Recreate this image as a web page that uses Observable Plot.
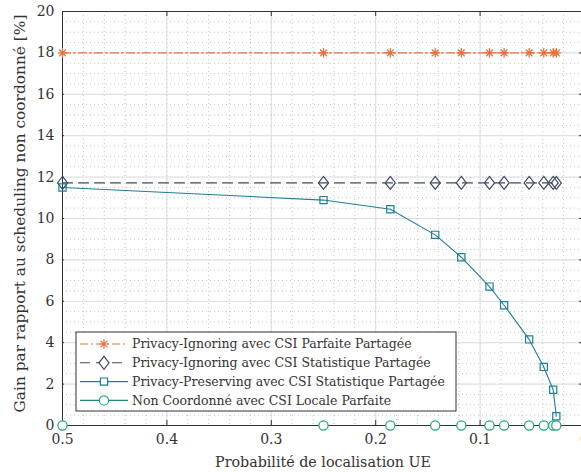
<!DOCTYPE html>
<html>
<head>
<meta charset="utf-8">
<script src="https://cdn.jsdelivr.net/npm/d3@7"></script>
<script src="https://cdn.jsdelivr.net/npm/@observablehq/plot@0.6"></script>
<style>
  html, body { margin: 0; padding: 0; background: #fff; }
  #chart { position: relative; width: 581px; height: 472px; overflow: hidden; }
</style>
</head>
<body>
<div id="chart"></div>
<script>
// ---- Data ----
const probLoc = [0.5, 0.25, 0.186, 0.143, 0.118, 0.091, 0.077, 0.053, 0.039, 0.030, 0.027];
const gainIgnoringParfaite = [18, 18, 18, 18, 18, 18, 18, 18, 18, 18, 18];
const gainIgnoringStat = [11.72, 11.72, 11.72, 11.72, 11.72, 11.72, 11.72, 11.72, 11.72, 11.72, 11.72];
const gainPreservingStat = [11.5, 10.89, 10.45, 9.21, 8.13, 6.71, 5.81, 4.16, 2.83, 1.73, 0.45];
const gainNonCoord = [0, 0, 0, 0, 0, 0, 0, 0, 0, 0, 0];

const seriesNames = [
  "Privacy-Ignoring avec CSI Parfaite Partagée",
  "Privacy-Ignoring avec CSI Statistique Partagée",
  "Privacy-Preserving avec CSI Statistique Partagée",
  "Non Coordonné avec CSI Locale Parfaite"
];
const xLabel = "Probabilité de localisation UE";
const yLabel = "Gain par rapport au scheduling non coordonné [%]";
const xTicks = [0.5, 0.4, 0.3, 0.2, 0.1, 0];
const yTicks = [0, 2, 4, 6, 8, 10, 12, 14, 16, 18, 20];
const xMinor = d3.range(0, 0.5001, 0.02);
const yMinor = d3.range(0, 20.001, 0.5);

// ---- Styles ----
const FONT = "'DejaVu Serif', 'Liberation Serif', serif";
const colors = ["#E8703A", "#3E4A60", "#1E7F96", "#1BA47A"];
const lineColors = ["#E8703A", "#3E4A60", "#1E7F96", "#228B78"];
const dashes = ["8,3,2,3", "10,6", null, null];

const star8 = {draw(ctx, size) {
  const r = Math.sqrt(size / Math.PI), d = r * Math.SQRT1_2;
  ctx.moveTo(-r, 0); ctx.lineTo(r, 0); ctx.moveTo(0, -r); ctx.lineTo(0, r);
  ctx.moveTo(-d, -d); ctx.lineTo(d, d); ctx.moveTo(-d, d); ctx.lineTo(d, -d);
}};
const diamondTall = {draw(ctx, size) {
  const r = Math.sqrt(size / Math.PI), w = r * 0.78;
  ctx.moveTo(0, -r); ctx.lineTo(w, 0); ctx.lineTo(0, r); ctx.lineTo(-w, 0); ctx.closePath();
}};
const squareSym = {draw(ctx, size) {
  const r = Math.sqrt(size / Math.PI);
  ctx.rect(-r, -r, 2 * r, 2 * r);
}};
const circleSym = {draw(ctx, size) {
  const r = Math.sqrt(size / Math.PI);
  ctx.moveTo(r, 0); ctx.arc(0, 0, r, 0, 2 * Math.PI);
}};
const symbols = [star8, diamondTall, squareSym, circleSym];
const radii = [4.8, 6.5, 3.6, 4.6];

const seriesValues = [gainIgnoringParfaite, gainIgnoringStat, gainPreservingStat, gainNonCoord];
const rows = seriesValues.map((vals, s) => probLoc.map((x, i) => ({x, y: vals[i], s})));

const W = 581, H = 472;
const mLeft = 62, mTop = 11, mBottom = 47, xRight = 584;
const plotH = H - mTop - mBottom;
const plotW = xRight - mLeft;
const tickLen = 5;

const marks = [
  Plot.ruleX(xMinor, {stroke: "#b8b8b8", strokeDasharray: "1,3", strokeWidth: 0.8}),
  Plot.ruleY(yMinor, {stroke: "#b8b8b8", strokeDasharray: "1,3", strokeWidth: 0.8}),
  Plot.ruleX(xTicks, {stroke: "#dedede", strokeWidth: 1}),
  Plot.ruleY(yTicks, {stroke: "#dedede", strokeWidth: 1}),
];
rows.forEach((data, s) => {
  marks.push(Plot.line(data, {x: "x", y: "y", stroke: lineColors[s], strokeWidth: 1.1, strokeDasharray: dashes[s]}));
});
marks.push(Plot.frame({stroke: "#333", strokeWidth: 1}));
// inward ticks
marks.push(Plot.ruleX(xTicks, {stroke: "#333", insetTop: plotH - tickLen}));
marks.push(Plot.ruleX(xTicks, {stroke: "#333", insetBottom: plotH - tickLen}));
marks.push(Plot.ruleY(yTicks, {stroke: "#333", insetRight: plotW - tickLen}));
marks.push(Plot.ruleY(yTicks, {stroke: "#333", insetLeft: plotW - tickLen}));
rows.forEach((data, s) => {
  marks.push(Plot.dot(data, {x: "x", y: "y", symbol: () => symbols[s], r: radii[s], stroke: colors[s], fill: s === 3 ? "white" : "none", strokeWidth: 1.2}));
});
marks.push(Plot.axisX(xTicks, {tickSize: 0, tickPadding: 9, tickFormat: d => String(d), fontSize: 14, label: null}));
marks.push(Plot.axisY(yTicks, {tickSize: 0, tickPadding: 8, fontSize: 14, label: null}));

const plot = Plot.plot({
  width: W, height: H,
  marginLeft: mLeft, marginTop: mTop, marginBottom: mBottom, marginRight: 0,
  x: {domain: [0.5, 0], range: [mLeft, xRight], label: null},
  y: {domain: [0, 20], label: null},
  style: {fontFamily: FONT, fontSize: "14px", color: "#333", background: "white", overflow: "hidden"},
  marks
});
document.getElementById("chart").appendChild(plot);

const svg = d3.select(plot);
const sx = plot.scale("x"), sy = plot.scale("y");

// fit a text element's font size so its length equals target px
function fit(sel, target) {
  const fs = parseFloat(sel.attr("font-size"));
  const len = sel.node().getComputedTextLength();
  if (len > 0) sel.attr("font-size", (fs * target / len).toFixed(2));
}

// ---- Axis titles ----
const xt = svg.append("text").attr("x", (sx.apply(0.5) + sx.apply(0)) / 2).attr("y", 462)
  .attr("text-anchor", "middle").attr("dy", "0.35em").attr("font-family", FONT).attr("font-size", 15)
  .attr("fill", "#333").text(xLabel);
fit(xt, 216);
const yt = svg.append("text").attr("transform", `translate(20,213.5) rotate(-90)`)
  .attr("text-anchor", "middle").attr("dy", "0.35em").attr("font-family", FONT).attr("font-size", 15)
  .attr("fill", "#333").text(yLabel);
fit(yt, 398);

// ---- Legend (inside plot, lower-left) ----
const lg = svg.append("g").attr("fill", "#333");
const bx = 76, by = 332, bw = 380, bh = 79;
lg.append("rect").attr("x", bx).attr("y", by).attr("width", bw).attr("height", bh)
  .attr("fill", "white").attr("stroke", "#333").attr("stroke-width", 1);
const legendTexts = [];
seriesNames.forEach((name, s) => {
  const cy = by + 12 + s * 18.8;
  lg.append("line").attr("x1", bx + 4).attr("x2", bx + 52).attr("y1", cy).attr("y2", cy)
    .attr("stroke", lineColors[s]).attr("stroke-width", 1.1).attr("stroke-dasharray", dashes[s]);
  lg.append("path").attr("transform", `translate(${bx + 28},${cy})`)
    .attr("d", d3.symbol().type(symbols[s]).size(Math.PI * radii[s] * radii[s])())
    .attr("fill", "white").attr("stroke", colors[s]).attr("stroke-width", 1.2);
  legendTexts.push(lg.append("text").attr("x", bx + 56).attr("y", cy).attr("dy", "0.35em")
    .attr("text-anchor", "start").attr("font-family", FONT).attr("font-size", 13).text(name));
});
// scale all legend texts so the longest entry spans like the reference
const longest = legendTexts[2];
const len = longest.node().getComputedTextLength();
const lfs = (13 * 313 / len).toFixed(2);
legendTexts.forEach(t => t.attr("font-size", lfs));
</script>
</body>
</html>
